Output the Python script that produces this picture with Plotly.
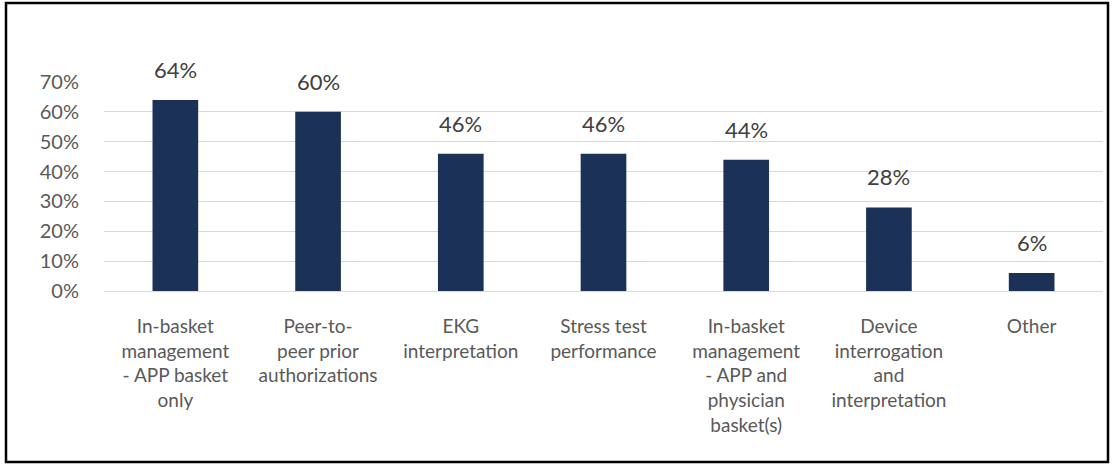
import plotly.graph_objects as go

categories = [
    "In-basket<br>management<br>- APP basket<br>only",
    "Peer-to-<br>peer prior<br>authorizations",
    "EKG<br>interpretation",
    "Stress test<br>performance",
    "In-basket<br>management<br>- APP and<br>physician<br>basket(s)",
    "Device<br>interrogation<br>and<br>interpretation",
    "Other",
]
values = [0.64, 0.60, 0.46, 0.46, 0.44, 0.28, 0.06]
labels = ["64%", "60%", "46%", "46%", "44%", "28%", "6%"]
yticks = [0, 0.1, 0.2, 0.3, 0.4, 0.5, 0.6, 0.7]

W, H = 1114, 470
L, R, T, B = 104, 11, 82, 179
pw, ph = W - L - R, H - T - B

fig = go.Figure()
fig.add_trace(go.Bar(
    x=list(range(len(categories))), y=values,
    marker=dict(color="#1b3157", line=dict(width=0)),
    width=0.32, hoverinfo="skip",
))

for i, (v, lab) in enumerate(zip(values, labels)):
    fig.add_annotation(x=i, y=v, text=lab, showarrow=False, yanchor="bottom",
                       yshift=15, font=dict(family="Lato", size=22, color="#404040"))

def px2x(p):
    return (p - L) / pw

def px2y(p):
    return (H - B - p) / ph

fig.add_shape(type="rect", xref="paper", yref="paper",
              x0=px2x(6), x1=px2x(1108), y0=px2y(462), y1=px2y(3),
              line=dict(color="black", width=2.5), fillcolor="rgba(0,0,0,0)", layer="below")

fig.update_layout(
    width=W, height=H,
    margin=dict(l=L, r=R, t=T, b=B, pad=0),
    paper_bgcolor="white", plot_bgcolor="white",
    showlegend=False,
    bargap=0.68,
    xaxis=dict(
        tickmode="array", tickvals=list(range(len(categories))), ticktext=categories,
        range=[-0.5, len(categories) - 0.5],
        showgrid=False, zeroline=False, showline=False, ticks="",
        tickfont=dict(family="Lato", size=19, color="#595959"),
        ticklabelstandoff=22, tickangle=0,
    ),
    yaxis=dict(
        range=[0, 0.7], tickvals=yticks, tickformat=".0%",
        showgrid=True, gridcolor="#d9d9d9", gridwidth=1,
        zeroline=True, zerolinecolor="#d9d9d9", zerolinewidth=1,
        showline=False, ticks="",
        tickfont=dict(family="Lato", size=20, color="#595959"),
        ticklabelstandoff=24,
    ),
)

fig.write_html("out.html", config={"displayModeBar": False},
               post_script="document.body.style.margin='0';document.body.style.overflow='hidden';")
